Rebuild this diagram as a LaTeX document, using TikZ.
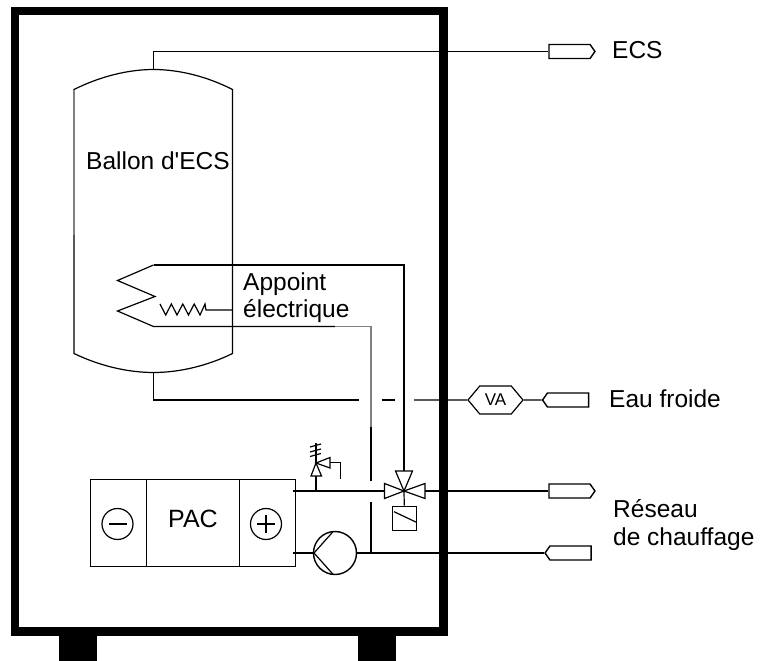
\documentclass[tikz,border=0pt]{standalone}
\usepackage{fontspec}
\setmainfont{Liberation Sans}
\usetikzlibrary{shapes.symbols}
\tikzset{
  pipe/.style={line width=1.2pt},
  capnode/.style={draw,line width=1.4pt,signal,signal pointer angle=110,inner sep=0pt,minimum width=#1,minimum height=14pt},
  valvepart/.style={draw,line width=1.2pt,fill=white},
  pacbox/.style={draw,line width=1.2pt,minimum height=87pt,inner sep=0pt,anchor=north west},
  sign/.style={draw,circle,line width=1.2pt,minimum size=31pt,inner sep=0pt},
  label/.style={font=\fontsize{24.5}{24.5}\selectfont,anchor=base west,inner sep=0pt}
}
\begin{document}
\begin{tikzpicture}[x=1pt,y=-1pt]
\useasboundingbox (0,0) rectangle (761,661);

%draw the casing and its two feet
\draw[line width=8.4pt] (15,11) rectangle (443.5,631.5);
\fill (59,631) rectangle (97,661);
\fill (358,631) rectangle (395.5,661);

%draw the tank
\coordinate (tanktop) at (153.5,69.5);
\coordinate (tankbottom) at (153.5,372.5);
\draw[pipe] (74,89.5) .. controls (100,76.5) and (128,69.5) .. (tanktop) .. controls (179,69.5) and (207,76.5) .. (232.5,89.5) -- (232.5,353.5) .. controls (207,366) and (179,372.5) .. (tankbottom) .. controls (128,372.5) and (100,366) .. (74,353.5) -- cycle;
\draw[pipe,color=gray] (74,90) -- (74,235);
\node[label] (ballon) at (86,169) {Ballon d\textquotesingle ECS};

%draw the coil, the heater and their lines
\coordinate (coiltop) at (153.5,265);
\coordinate (coilend) at (153.5,326.5);
\coordinate (backcorner) at (371,326.5);
\draw[pipe] (coiltop) -- (117.5,280.5) -- (155,296.5) -- (117.5,311) -- (coilend) -- (335,326.5);
\draw[pipe,color=gray] (335,326.5) -- (backcorner) -- (371,427);
\draw[pipe] (371,427) -- (371,481);
\draw[pipe] (160,304) -- (165.7,315) -- (171.4,304) -- (177,315) -- (182.8,304) -- (188.5,315) -- (194.2,304) -- (200,315) -- (205,304) -- (206,310) -- (232.5,310);
\node[label] (appoint) at (243,290) {Appoint};
\node[label] (electrique) at (243,317) {électrique};

%draw the outlet caps
\node[capnode=46pt,signal to=east] (capecs) at (569.5,51.5) {};
\node[capnode=46pt,signal to=west] (capfroide) at (568,400) {};
\node[capnode=46pt,signal to=east] (capdepart) at (569.5,491) {};
\node[capnode=46pt,signal to=west] (capretour) at (570.5,553) {};
\node[label] (ecs) at (612,59) {ECS};
\node[label] (froide) at (609,407) {Eau froide};
\node[label] (reseau) at (613,517) {Réseau};
\node[label] (chauffage) at (613,545) {de chauffage};

%draw the hot water line
\draw[pipe] (tanktop) |- (capecs);

%draw the cold water line, broken where it crosses
\node[draw,line width=1.2pt,signal,signal to=east and west,signal pointer angle=100,inner sep=0pt,minimum width=55pt,minimum height=28pt,font=\fontsize{17}{17}\selectfont] (va) at (495.5,400) {VA};
\draw[pipe] (tankbottom) |- (359,400);
\draw[pipe] (381.5,400) -- (395,400);
\draw[pipe] (414,400) -- (va);
\draw[pipe] (va) -- (capfroide);

%draw the heat pump
\node[pacbox,minimum width=56pt] (moinsbox) at (90,479) {};
\node[pacbox,minimum width=92.5pt] (pac) at (146,479) {};
\node[pacbox,minimum width=56pt] (plusbox) at (238.5,479) {};
\node[font=\fontsize{25}{25}\selectfont] (pactext) at (193,519) {PAC};
\node[sign] (moins) at (117.5,524) {};
\node[sign] (plus) at (266,524) {};
\draw[pipe] ([xshift=-9pt]moins.center) -- ([xshift=9pt]moins.center);
\draw[pipe] ([xshift=-9pt]plus.center) -- ([xshift=9pt]plus.center);
\draw[pipe] ([yshift=-9pt]plus.center) -- ([yshift=9pt]plus.center);

%draw the heating lines
\coordinate (departstart) at (292.5,491);
\coordinate (retourstart) at (292.5,553);
\node[draw,circle,line width=1.4pt,minimum size=43pt,inner sep=0pt] (pump) at (335,553) {};
\draw[pipe] (departstart) -- (capdepart);
\draw[pipe] (retourstart) -- (pump);
\draw[pipe] (pump) -- (capretour);
\draw[pipe] (333,531.7) -- (314,553) -- (333,574.3);
\draw[pipe] (371,501.5) -- (371,553);

%draw the three way valve and its motor
\coordinate (valve) at (404,491);
\draw[valvepart] (valve) -- (395.5,471) -- (412.5,471) -- cycle;
\draw[valvepart] (valve) -- (384.5,483.5) -- (384.5,498.5) -- cycle;
\draw[valvepart] (valve) -- (425,483.5) -- (425,498.5) -- cycle;
\node[draw,line width=1.2pt,minimum size=24.5pt,inner sep=0pt] (motor) at (404.5,518.5) {};
\draw[pipe] (valve) -- (motor);
\draw[pipe] (394,511.7) -- (416.5,522.3);
\draw[pipe] (coiltop) -- (404,265) -- (404,471);

%draw the safety valve
\coordinate (safety) at (316,463);
\draw[pipe] (316,491) -- (316,476);
\draw[valvepart] (safety) -- (311,476) -- (321.5,476) -- cycle;
\draw[valvepart] (safety) -- (330,457.5) -- (330,468) -- cycle;
\draw[pipe] (330,462.5) -- (340.5,462.5) -- (340.5,479);
\draw[pipe] (safety) -- (316,443);
\draw[pipe] (310,447) -- (321,444);
\draw[pipe] (310,452) -- (321,449);
\draw[pipe] (310,456.5) -- (321,453.5);
\end{tikzpicture}
\end{document}
